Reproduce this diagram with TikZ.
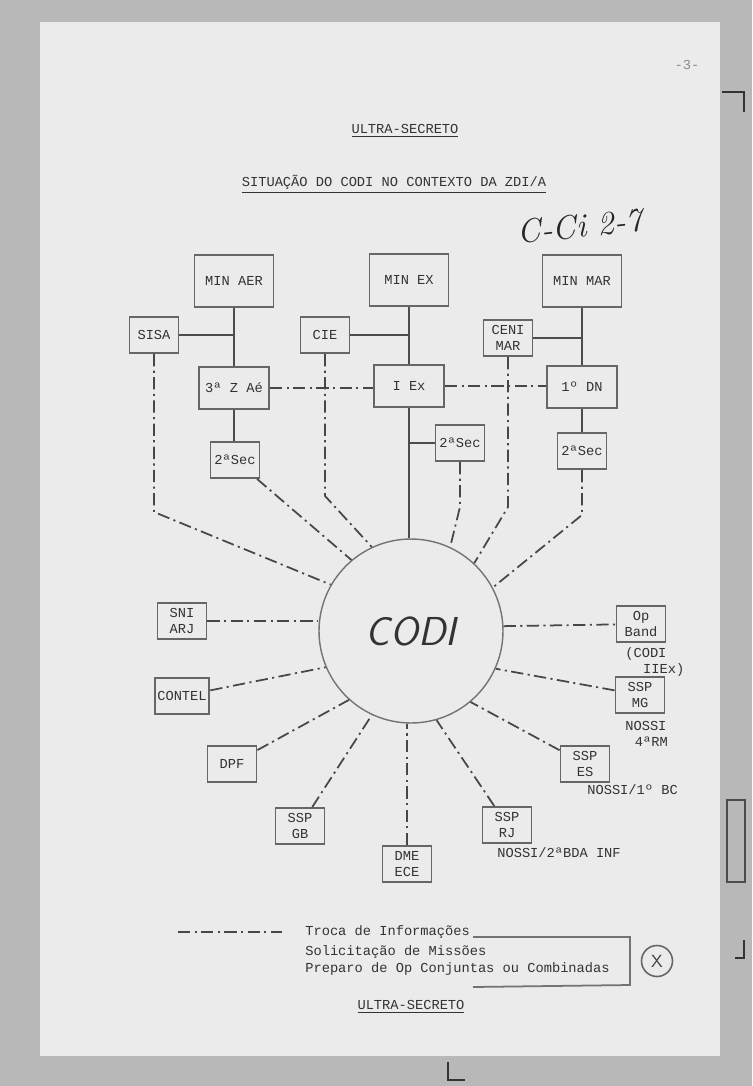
\documentclass[tikz,border=0pt]{standalone}
\usepackage{fontspec}
\setmonofont{Liberation Mono}
\usetikzlibrary{positioning,calc}

\begin{document}
\begin{tikzpicture}[
    x=0.02cm, y=-0.02cm,
    typed/.style={font=\ttfamily\fontsize{7.8}{9}\selectfont, text=black!80},
    bigbox/.style={typed, rectangle, draw=black!60, line width=1.1pt, minimum width=1.58cm, minimum height=1.04cm, align=center},
    midbox/.style={typed, rectangle, draw=black!60, line width=1.1pt, minimum width=1.4cm, minimum height=0.84cm, align=center},
    smallbox/.style={typed, rectangle, draw=black!60, line width=1.1pt, minimum width=0.98cm, minimum height=0.72cm, inner sep=1.5pt, align=center},
    orgline/.style={draw=black!70, line width=1.2pt},
    infoline/.style={draw=black!72, line width=1pt, dash pattern=on 7pt off 2.5pt on 1.2pt off 2.5pt},
    note/.style={typed, align=left, inner sep=0pt}
]
    \useasboundingbox (0,0) rectangle (752,1086);
    % photographed sheet
    \fill[black!28] (0,0) rectangle (752,1086);
    \fill[black!8] (40,22) rectangle (720,1056);

    % margin marks
    \draw[black!80, line width=1.5pt] (722,92) -- (744,92) -- (744,112);
    \draw[black!70, line width=1.2pt] (727,800) rectangle (745,882);
    \draw[black!80, line width=1.5pt] (744,940) -- (744,958) -- (735,958);
    \draw[black!80, line width=1.5pt] (448,1062) -- (448,1080) -- (465,1080);

    % heading
    \node[typed, text=black!45] (pagenum) at (687,65) {-3-};
    \node[typed] (title) at (405,131) {\underline{ULTRA-SECRETO}};
    \node[typed] (subtitle) at (394,184) {\underline{SITUAÇÃO DO CODI NO CONTEXTO DA ZDI/A}};
    \node[font=\rmfamily\itshape\fontsize{19}{21}\selectfont, text=black!85, rotate=6, inner sep=0pt] (handnote) at (580,226) {C-Ci 2-7};

    % ministries
    \node[bigbox] (minaer) at (234,281) {MIN AER};
    \node[bigbox] (minex) at (409,280) {MIN EX};
    \node[bigbox] (minmar) at (582,281) {MIN MAR};
    \node[smallbox] (sisa) at (154,335) {SISA};
    \node[smallbox] (cie) at (325,335) {CIE};
    \node[smallbox] (cenimar) at (508,338) {CENI\\MAR};
    \node[midbox] (zae) at (234,388) {3ª Z Aé};
    \node[midbox] (iex) at (409,386) {I Ex};
    \node[midbox] (dn) at (582,387) {1º DN};
    \node[smallbox] (seca) at (235,460) {2ªSec};
    \node[smallbox] (secb) at (460,443) {2ªSec};
    \node[smallbox] (secc) at (582,451) {2ªSec};

    % centre
    \node[circle, draw=black!55, line width=0.8pt, minimum size=3.68cm, inner sep=0pt,
          font=\sffamily\itshape\fontsize{23}{25}\selectfont, text=black!80] (codi) at (411,631) {CODI};

    % outer agencies
    \node[smallbox] (sniarj) at (182,621) {SNI\\ARJ};
    \node[smallbox] (contel) at (182,696) {CONTEL};
    \node[smallbox] (dpf) at (232,764) {DPF};
    \node[smallbox] (sspgb) at (300,826) {SSP\\GB};
    \node[smallbox] (dme) at (407,864) {DME\\ECE};
    \node[smallbox] (ssprj) at (507,825) {SSP\\RJ};
    \node[smallbox] (sspes) at (585,764) {SSP\\ES};
    \node[smallbox] (sspmg) at (640,695) {SSP\\MG};
    \node[smallbox] (opband) at (641,624) {Op\\Band};
    \node[note, anchor=north west] (opbandnote) at (625,647) {(CODI\\\hspace*{1.3em}IIEx)};
    \node[note, anchor=north west] (sspmgnote) at (625,721) {NOSSI\\\hspace*{0.7em}4ªRM};
    \node[note, anchor=west] (sspesnote) at (587,790) {NOSSI/1º BC};
    \node[note, anchor=west] (ssprjnote) at (497,853) {NOSSI/2ªBDA INF};

    % chain of command
    \draw[orgline] (minaer) -- (zae);
    \draw[orgline] (sisa) -- (sisa -| minaer);
    \draw[orgline] (zae.south) -- (zae.south |- seca.north);
    \draw[orgline] (minex) -- (iex);
    \draw[orgline] (cie) -- (cie -| minex);
    \draw[orgline] (iex.south) -- (iex.south |- codi.north);
    \draw[orgline] (secb.west) -- (secb.west -| iex);
    \draw[orgline] (minmar) -- (dn);
    \draw[orgline] (cenimar) -- (cenimar -| minmar);
    \draw[orgline] (dn) -- (secc);

    % exchange of information
    \draw[infoline] (zae) -- (zae -| iex.west);
    \draw[infoline] (iex) -- (iex -| dn.west);
    \draw[infoline] (sisa.south) -- ++(0,158) -- (codi.150);
    \draw[infoline] (seca) -- (codi.130);
    \draw[infoline] (cie.south) -- ++(0,142) -- (codi.115);
    \draw[infoline] (secb.south) -- ++(0,45) -- (codi.65);
    \draw[infoline] (cenimar.south) -- ++(0,150) -- (codi.47);
    \draw[infoline] (secc.south) -- ++(0,45) -- (codi.28);
    \draw[infoline] (sniarj) -- (sniarj -| codi.west);
    \draw[infoline] (contel) -- (codi.203);
    \draw[infoline] (dpf) -- (codi.228);
    \draw[infoline] (sspgb) -- (codi.245);
    \draw[infoline] (dme) -- (dme |- codi.south);
    \draw[infoline] (ssprj) -- (codi.286);
    \draw[infoline] (sspes) -- (codi.310);
    \draw[infoline] (sspmg) -- (codi.336);
    \draw[infoline] (codi.3) -- (opband);

    % legend
    \coordinate (legA) at (178,932);
    \coordinate (legB) at (282,932);
    \draw[infoline, line width=1.4pt] (legA) -- (legB);
    \node[note, anchor=west] (leg1) at (305,932) {Troca de Informações};
    \node[note, anchor=west] (leg2) at (305,952) {Solicitação de Missões};
    \node[note, anchor=west] (leg3) at (305,969) {Preparo de Op Conjuntas ou Combinadas};
    \draw[black!55, line width=1pt] (473,937) -- (630,937) -- (630,985) -- (473,987);
    \node[circle, draw=black!60, line width=0.9pt, minimum size=0.62cm, inner sep=0pt,
          font=\sffamily\fontsize{10}{12}\selectfont, text=black!75] (xmark) at (657,961) {X};

    \node[typed] (footer) at (411,1007) {\underline{ULTRA-SECRETO}};
\end{tikzpicture}
\end{document}
